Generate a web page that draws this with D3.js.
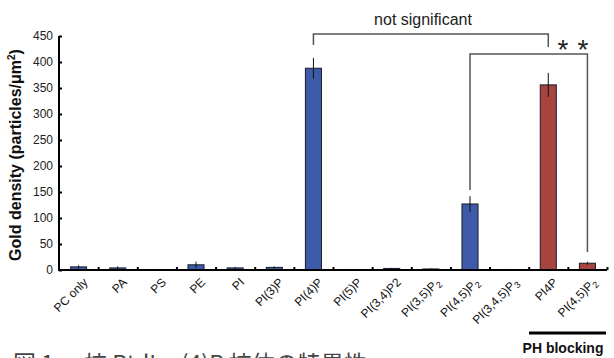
<!DOCTYPE html>
<html>
<head>
<meta charset="utf-8">
<script src="https://cdn.jsdelivr.net/npm/d3@7"></script>
<style>
body { margin: 0; background: #fff; }
svg { font-family: Arial, "Liberation Sans", sans-serif; }
</style>
</head>
<body>
<div id="chart"></div>
<script>
// 数据
var names = ["PC only", "PA", "PS", "PE", "PI", "PI(3)P", "PI(4)P", "PI(5)P",
    "PI(3,4)P2", "PI(3,5)P2", "PI(4,5)P2", "PI(3,4,5)P3", "PI4P", "PI(4,5)P2"];
var values = [6, 4, 1, 10, 4, 5, 388, 1, 3, 2, 127, 1, 356, 13];
var errors = [3, 3, 0, 6, 2, 2, 20, 0, 1, 1, 15, 0, 23, 3];
var groups = ["c", "c", "c", "c", "c", "c", "c", "c", "c", "c", "c", "c", "ph", "ph"];
var yTicks = [0, 50, 100, 150, 200, 250, 300, 350, 400, 450];

const width = 614, height = 358;
const svg = d3.select("#chart").append("svg")
    .attr("width", width).attr("height", height);

const x = d3.scaleBand().domain(d3.range(names.length)).range([59, 607]).paddingInner(0.59).paddingOuter(0.295);
const xb = d3.scaleLinear().domain([0, names.length]).range([59, 607]);
const y = d3.scaleLinear().domain([0, 450]).range([270, 36]);

const color = {c: "#3e5ba9", ph: "#a8443f"};

// 柱子
svg.selectAll(".bar").data(values).enter().append("rect")
    .attr("class", "bar")
    .attr("x", (d, i) => x(i))
    .attr("width", x.bandwidth())
    .attr("y", d => y(d))
    .attr("height", d => y(0) - y(d))
    .attr("fill", (d, i) => color[groups[i]])
    .attr("stroke", "#1a1a2a")
    .attr("stroke-width", 1);

// 误差线
svg.selectAll(".err").data(values).enter().append("line")
    .attr("x1", (d, i) => x(i) + x.bandwidth() / 2)
    .attr("x2", (d, i) => x(i) + x.bandwidth() / 2)
    .attr("y1", (d, i) => y(d + errors[i]))
    .attr("y2", (d, i) => y(Math.max(0, d - errors[i])))
    .attr("stroke", "#111").attr("stroke-width", 1);

// Y轴
const yAxis = svg.append("g").attr("transform", "translate(59,0)")
    .call(d3.axisRight(y).tickValues(yTicks).tickSize(3).tickFormat(""));
yAxis.select(".domain").remove();
yAxis.selectAll("line").attr("stroke", "#000").attr("stroke-width", 2);
svg.selectAll(".ylab").data(yTicks).enter().append("text")
    .attr("x", 53).attr("y", d => y(d) + 4)
    .attr("text-anchor", "end").attr("font-size", 12).attr("fill", "#222")
    .text(d => d);

// X轴
const xAxis = svg.append("g").attr("transform", "translate(0,270)")
    .call(d3.axisTop(xb).tickValues(d3.range(1, names.length + 1)).tickSize(3).tickFormat(""));
xAxis.select(".domain").remove();
xAxis.selectAll("line").attr("stroke", "#000").attr("stroke-width", 2);
svg.append("line").attr("x1", 59).attr("x2", 607).attr("y1", 270).attr("y2", 270)
    .attr("stroke", "#000").attr("stroke-width", 2);
svg.append("line").attr("x1", 59).attr("x2", 59).attr("y1", 36).attr("y2", 271)
    .attr("stroke", "#000").attr("stroke-width", 2);

// X标签（下标）
svg.selectAll(".xlab").data(names).enter().append("text")
    .attr("transform", (d, i) => "translate(" + (x(i) + x.bandwidth() / 2 + 10) + ",283) rotate(-45)")
    .attr("text-anchor", "end").attr("font-size", 12).attr("fill", "#111")
    .each(function (d, i) {
        var m = d.match(/^(.*P)(\d)$/);
        var t = d3.select(this);
        if (m && i !== 8) {
            t.append("tspan").text(m[1]);
            t.append("tspan").attr("font-size", 9).attr("dy", 3).text(m[2]);
        } else {
            t.text(d);
        }
    });

// Y轴标题
svg.append("text")
    .attr("transform", "translate(21,155) rotate(-90)")
    .attr("text-anchor", "middle").attr("font-size", 16).attr("font-weight", "bold")
    .attr("fill", "#111")
    .html('Gold density (particles/μm<tspan font-size="10" dy="-6">2</tspan><tspan dy="6">)</tspan>');

// 显著性标注
const cx = i => x(i) + x.bandwidth() / 2;
svg.append("path")
    .attr("d", `M${cx(6)},45 V34 H${cx(12)} V47`)
    .attr("fill", "none").attr("stroke", "#555").attr("stroke-width", 1.5);
svg.append("text").attr("x", 423).attr("y", 25).attr("text-anchor", "middle")
    .attr("font-size", 16).attr("fill", "#222").text("not significant");
svg.append("path")
    .attr("d", `M${cx(10)},190 V54 H${cx(13)} V252`)
    .attr("fill", "none").attr("stroke", "#555").attr("stroke-width", 1.5);
svg.selectAll(".star").data([563, 583]).enter().append("text")
    .attr("x", d => d).attr("y", 59).attr("text-anchor", "middle")
    .attr("font-size", 28).attr("fill", "#222").text("*");

// PH blocking
svg.append("line").attr("x1", 529).attr("x2", 606).attr("y1", 333).attr("y2", 333)
    .attr("stroke", "#000").attr("stroke-width", 3);
svg.append("text").attr("x", 563).attr("y", 353).attr("text-anchor", "middle")
    .attr("font-size", 14).attr("font-weight", "bold").attr("fill", "#111").text("PH blocking");

// 图注（被裁切）
const cap = svg.append("g").attr("font-family", "'Noto Sans CJK JP', sans-serif")
    .attr("font-size", 23).attr("fill", "#444");
cap.append("text").attr("x", 13).attr("y", 372).text("図 1");
cap.append("text").attr("x", 84).attr("y", 372).text("抗 PtdIns(4)P 抗体の特異性");
</script>
</body>
</html>
